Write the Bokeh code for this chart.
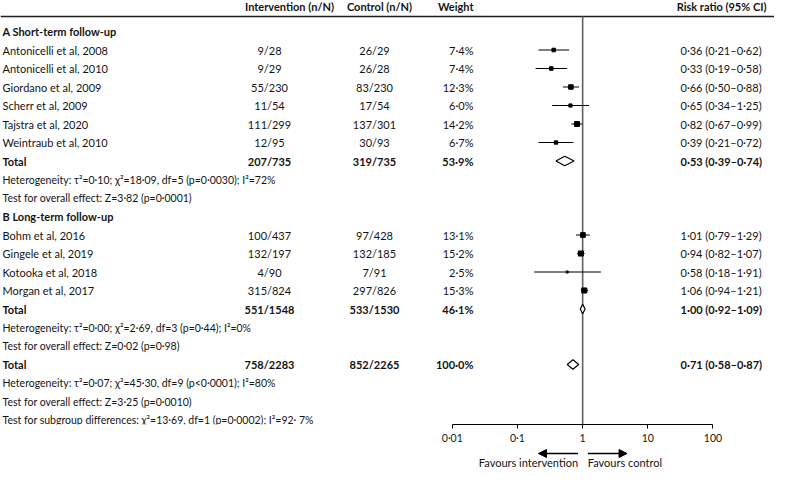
from bokeh.plotting import figure
from bokeh.models import (Range1d, LinearScale, LogAxis, FixedTicker, Arrow, NormalHead)
from bokeh.layouts import column
from bokeh.core.properties import value
from bokeh.embed import file_html
from bokeh.resources import INLINE

# ---------------- data ----------------
group_labels = ["A Short-term follow-up", "B Long-term follow-up"]

studies_a = ["Antonicelli et al, 2008", "Antonicelli et al, 2010", "Giordano et al, 2009",
             "Scherr et al, 2009", "Tajstra et al, 2020", "Weintraub et al, 2010"]
int_events_a = [9, 9, 55, 11, 111, 12]
int_total_a = [28, 29, 230, 54, 299, 95]
ctrl_events_a = [26, 26, 83, 17, 137, 30]
ctrl_total_a = [29, 28, 230, 54, 301, 93]
weight_a = [7.4, 7.4, 12.3, 6.0, 14.2, 6.7]
rr_a = [0.36, 0.33, 0.66, 0.65, 0.82, 0.39]
lo_a = [0.21, 0.19, 0.50, 0.34, 0.67, 0.21]
hi_a = [0.62, 0.58, 0.88, 1.25, 0.99, 0.72]

studies_b = ["Bohm et al, 2016", "Gingele et al, 2019", "Kotooka et al, 2018", "Morgan et al, 2017"]
int_events_b = [100, 132, 4, 315]
int_total_b = [437, 197, 90, 824]
ctrl_events_b = [97, 132, 7, 297]
ctrl_total_b = [428, 185, 91, 826]
weight_b = [13.1, 15.2, 2.5, 15.3]
rr_b = [1.01, 0.94, 0.58, 1.06]
lo_b = [0.79, 0.82, 0.18, 0.94]
hi_b = [1.29, 1.07, 1.91, 1.21]

# subgroup totals A, B, then overall
total_int_events = [207, 551, 758]
total_int_total = [735, 1548, 2283]
total_ctrl_events = [319, 533, 852]
total_ctrl_total = [735, 1530, 2265]
total_weight = [53.9, 46.1, 100.0]
total_rr = [0.53, 1.00, 0.71]
total_lo = [0.39, 0.92, 0.58]
total_hi = [0.74, 1.09, 0.87]

heterogeneity = ["Heterogeneity: τ²=0·10; χ²=18·09, df=5 (p=0·0030); I²=72%",
                 "Heterogeneity: τ²=0·00; χ²=2·69, df=3 (p=0·44); I²=0%",
                 "Heterogeneity: τ²=0·07; χ²=45·30, df=9 (p<0·0001); I²=80%"]
overall_effect = ["Test for overall effect: Z=3·82 (p=0·0001)",
                  "Test for overall effect: Z=0·02 (p=0·98)",
                  "Test for overall effect: Z=3·25 (p=0·0010)"]
subgroup_test = "Test for subgroup differences: χ²=13·69, df=1 (p=0·0002); I²=92· 7%"

col_headers = ["Intervention (n/N)", "Control (n/N)", "Weight", "Risk ratio (95% CI)"]
tick_values = [0.01, 0.1, 1, 10, 100]
tick_labels = ["0·01", "0·1", "1", "10", "100"]
favours = ["Favours intervention", "Favours control"]

# ---------------- layout constants ----------------
W = 774
FH = 424
ROW0 = 31.0
ROWH = 18.5
AX_LEFT_PX = 451.8
DECADE = 65.17
FONT = "Lato"
FS = "11px"
FS_STAT = "10.5px"
TXT = "#141414"

X_LABEL, X_INT, X_CTRL, X_W, X_RR, X_RRH = 2, 269, 374, 473, 680, 766
X_INTH, X_CTRLH = 289, 379


def dot(v, nd=2):
    return f"{v:.{nd}f}".replace(".", "·")


def rr_text(r, l, h):
    return f"{dot(r)} ({dot(l)}–{dot(h)})"


# ---------------- build rows ----------------
rows = []


def add(label, kind, bold=False, ie=None, it=None, ce=None, ct=None, w=None, r=None, l=None, h=None):
    rows.append(dict(label=label, kind=kind, bold=bold, ie=ie, it=it, ce=ce, ct=ct, w=w, r=r, l=l, h=h))


def add_group(g, names, ie, it, ce, ct, w, r, l, h):
    add(group_labels[g], "section", True)
    for i in range(len(names)):
        add(names[i], "study", False, ie[i], it[i], ce[i], ct[i], w[i], r[i], l[i], h[i])
    add("Total", "total", True, total_int_events[g], total_int_total[g], total_ctrl_events[g],
        total_ctrl_total[g], total_weight[g], total_rr[g], total_lo[g], total_hi[g])
    add(heterogeneity[g], "text")
    add(overall_effect[g], "text")


add_group(0, studies_a, int_events_a, int_total_a, ctrl_events_a, ctrl_total_a, weight_a, rr_a, lo_a, hi_a)
add_group(1, studies_b, int_events_b, int_total_b, ctrl_events_b, ctrl_total_b, weight_b, rr_b, lo_b, hi_b)
add("Total", "total", True, total_int_events[2], total_int_total[2], total_ctrl_events[2],
    total_ctrl_total[2], total_weight[2], total_rr[2], total_lo[2], total_hi[2])
add(heterogeneity[2], "text")
add(overall_effect[2], "text")
add(subgroup_test, "text")

# ---------------- figure ----------------
lg_start = 10 ** (-2 - AX_LEFT_PX / DECADE)
lg_end = 10 ** (2 + (W - AX_LEFT_PX - 4 * DECADE) / DECADE)
xr = Range1d(lg_start, lg_end)
yr = Range1d((FH - ROW0) / ROWH, -ROW0 / ROWH)

p = figure(frame_width=W, frame_height=FH, x_axis_type="log", x_range=xr, y_range=yr,
           x_axis_location=None, y_axis_location=None, min_border=0,
           toolbar_location=None, output_backend="svg", outline_line_color=None)
p.extra_x_ranges = {"px": Range1d(0, W)}
p.extra_x_scales = {"px": LinearScale()}
p.grid.visible = False

y_head = (6 - ROW0) / ROWH
y_line = (16 - ROW0) / ROWH

# header rule and line of no effect
p.segment(x0=[0], x1=[W], y0=[y_line], y1=[y_line], x_range_name="px",
          line_color="#1e1e1e", line_width=1.5)
p.segment(x0=[1], x1=[1], y0=[y_line], y1=[yr.start], line_color="#606060", line_width=1.6)

# texts
texts = {}


def put(x, y, t, align, bold, size=FS):
    d = texts.setdefault((align, bold, size), dict(x=[], y=[], t=[]))
    d["x"].append(x)
    d["y"].append(y)
    d["t"].append(t)


put(X_INTH, y_head, col_headers[0], "center", True)
put(X_CTRLH, y_head, col_headers[1], "center", True)
put(X_W, y_head, col_headers[2], "right", True)
put(X_RRH, y_head, col_headers[3], "right", True)

study_x, study_y, study_lo, study_hi, study_s = [], [], [], [], []
dia_xs, dia_ys = [], []
DH = 0.26
for i, r in enumerate(rows):
    put(X_LABEL, i, r["label"], "left", r["bold"], FS_STAT if r["kind"] == "text" else FS)
    if r["kind"] in ("study", "total"):
        b = r["bold"]
        put(X_INT, i, f"{r['ie']}/{r['it']}", "center", b)
        put(X_CTRL, i, f"{r['ce']}/{r['ct']}", "center", b)
        put(X_W, i, f"{dot(r['w'], 1)}%", "right", b)
        put(X_RR, i, rr_text(r["r"], r["l"], r["h"]), "left", b)
    if r["kind"] == "study":
        study_x.append(r["r"]); study_y.append(i)
        study_lo.append(r["l"]); study_hi.append(r["h"])
        study_s.append(1.3 * r["w"] ** 0.5)
    if r["kind"] == "total":
        dia_xs.append([r["l"], r["r"], r["h"], r["r"]])
        dia_ys.append([i, i - DH, i, i + DH])

p.segment(x0=study_lo, x1=study_hi, y0=study_y, y1=study_y, line_color="black", line_width=1.1)
p.scatter(x=study_x, y=study_y, size=study_s, marker="square", fill_color="black", line_color="black")
p.patches(xs=dia_xs, ys=dia_ys, fill_color="white", line_color="black", line_width=1.2)

for (align, bold, size), d in texts.items():
    p.text(x=d["x"], y=d["y"], text=d["t"], x_range_name="px", text_align=align,
           text_baseline="middle", text_font=value(FONT), text_font_size=size,
           text_font_style="bold" if bold else "normal", text_color=TXT)

ax = LogAxis(ticker=FixedTicker(ticks=tick_values), bounds=(tick_values[0], tick_values[-1]),
             major_label_overrides={v: s for v, s in zip(tick_values, tick_labels)})
ax.major_tick_in = 0
ax.major_tick_out = 4
ax.minor_tick_in = 0
ax.minor_tick_out = 0
ax.major_label_standoff = 3
ax.axis_line_color = "black"
ax.major_tick_line_color = "black"
ax.major_label_text_font = FONT
ax.major_label_text_font_size = "10.5px"
ax.major_label_text_color = TXT
p.add_layout(ax, "below")

# favours strip
BH = 22
q = figure(frame_width=W, frame_height=BH, x_axis_type="log", x_range=xr, y_range=Range1d(BH, 0),
           x_axis_location=None, y_axis_location=None, min_border=0,
           toolbar_location=None, output_backend="svg", outline_line_color=None)
q.grid.visible = False
ya, yt = 7, 16
q.add_layout(Arrow(end=NormalHead(size=8, fill_color="black", line_color="black"),
                   x_start=0.85, y_start=ya, x_end=0.21, y_end=ya, line_width=1.5))
q.add_layout(Arrow(end=NormalHead(size=8, fill_color="black", line_color="black"),
                   x_start=1.2, y_start=ya, x_end=4.8, y_end=ya, line_width=1.5))
q.text(x=[0.85], y=[yt], text=[favours[0]], text_align="right", text_baseline="middle",
       text_font=value(FONT), text_font_size=FS, text_color=TXT)
q.text(x=[1.2], y=[yt], text=[favours[1]], text_align="left", text_baseline="middle",
       text_font=value(FONT), text_font_size=FS, text_color=TXT)

layout = column(p, q, spacing=0)
open("out.html", "w").write(file_html(layout, INLINE))
